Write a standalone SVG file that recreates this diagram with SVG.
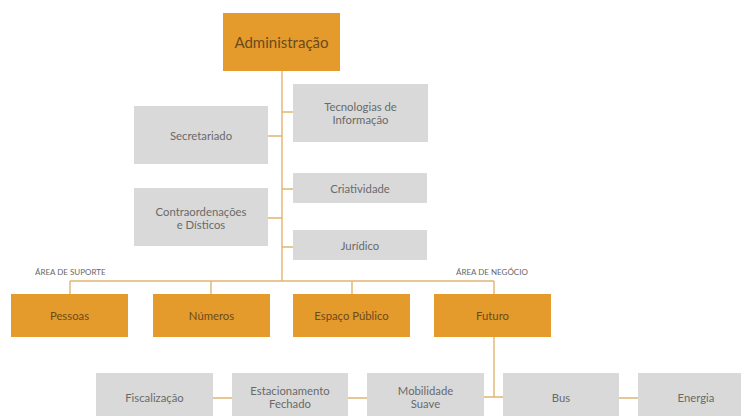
<svg xmlns="http://www.w3.org/2000/svg" width="741" height="416" viewBox="0 0 741 416">
<style>
.o{fill:#E49B2B}
.g{fill:#D9D9D9}
.t{font-family:Lato,"Noto Sans","Liberation Sans",sans-serif;font-size:11.3px;fill:#6a6a6a;text-anchor:middle;dominant-baseline:central}
.to{fill:#6b4a1c}
.lab{font-family:Lato,"Noto Sans","Liberation Sans",sans-serif;font-size:8px;fill:#666;text-anchor:start;dominant-baseline:central}
.c{stroke:#E0B570;stroke-width:1.4;fill:none}
</style>
<rect width="741" height="416" fill="#fff"/>
<g id="connectors" class="c">
<path d="M282 71V281"/>
<path d="M282 112H293M268 136H282M282 189H293M268 218H282M282 247H293"/>
<path d="M70 281H494M70 281V294M211 281V294M352 281V294M494 281V294"/>
<path d="M494 336V397M484 397H503"/>
<path d="M213 398H232M348 398H367M619 398H638"/>
</g>
<g id="administracao"><rect class="o" x="223" y="13" width="117" height="58"/><text class="t to" x="281.5" y="42" style="font-size:15px">Administração</text></g>
<g id="tecnologias"><rect class="g" x="293" y="84" width="135" height="58"/><text class="t" x="360.5" y="106">Tecnologias de</text><text class="t" x="360.5" y="119">Informação</text></g>
<g id="secretariado"><rect class="g" x="134" y="106" width="134" height="58"/><text class="t" x="201" y="135">Secretariado</text></g>
<g id="criatividade"><rect class="g" x="293" y="173" width="134" height="30"/><text class="t" x="360" y="188">Criatividade</text></g>
<g id="contraordenacoes"><rect class="g" x="134" y="188" width="134" height="58"/><text class="t" x="201" y="211">Contraordenações</text><text class="t" x="201" y="224">e Dísticos</text></g>
<g id="juridico"><rect class="g" x="293" y="230" width="134" height="30"/><text class="t" x="360" y="245">Jurídico</text></g>
<text class="lab" x="35" y="272">ÁREA DE SUPORTE</text>
<text class="lab" x="456" y="272">ÁREA DE NEGÓCIO</text>
<g id="pessoas"><rect class="o" x="11" y="294" width="117" height="43"/><text class="t to" x="69.5" y="315.5">Pessoas</text></g>
<g id="numeros"><rect class="o" x="153" y="294" width="117" height="43"/><text class="t to" x="211.5" y="315.5">Números</text></g>
<g id="espaco-publico"><rect class="o" x="293" y="294" width="117" height="43"/><text class="t to" x="351.5" y="315.5">Espaço Público</text></g>
<g id="futuro"><rect class="o" x="434" y="294" width="117" height="43"/><text class="t to" x="492.5" y="315.5">Futuro</text></g>
<g id="fiscalizacao"><rect class="g" x="96" y="373" width="117" height="46"/><text class="t" x="154.5" y="397">Fiscalização</text></g>
<g id="estacionamento"><rect class="g" x="232" y="373" width="116" height="46"/><text class="t" x="290" y="390">Estacionamento</text><text class="t" x="290" y="403">Fechado</text></g>
<g id="mobilidade"><rect class="g" x="367" y="373" width="117" height="46"/><text class="t" x="425.5" y="390">Mobilidade</text><text class="t" x="425.5" y="403">Suave</text></g>
<g id="bus"><rect class="g" x="503" y="373" width="116" height="46"/><text class="t" x="561" y="397">Bus</text></g>
<g id="energia"><rect class="g" x="638" y="373" width="117" height="46"/><text class="t" x="696" y="397">Energia</text></g>
</svg>
